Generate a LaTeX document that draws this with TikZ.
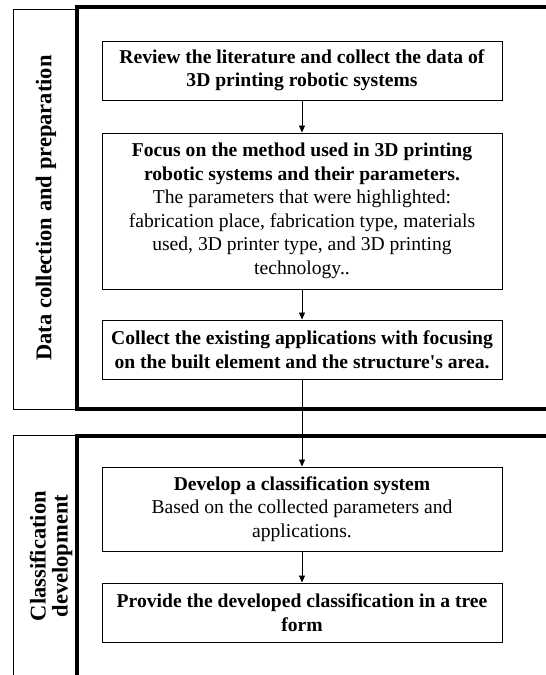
\documentclass[tikz,border=0pt]{standalone}
\usepackage{fontspec}
\setmainfont{Liberation Serif}[Ligatures=TeXOff]
\usetikzlibrary{arrows.meta}
\begin{document}
\begin{tikzpicture}[x=1pt,y=-1pt,
  stepbox/.style={draw, line width=1pt, minimum width=400pt, align=center, inner sep=0pt, font=\fontsize{19.6}{23.5}\selectfont},
  thickframe/.style={line width=3.5pt},
  thinframe/.style={line width=1pt},
  flow/.style={-{Triangle[length=7pt,width=6pt]}, line width=0.7pt},
  sidelabel/.style={rotate=90, align=center, inner sep=0pt, font=\fontsize{22.5}{22}\selectfont\bfseries}
]
\useasboundingbox (0,0) rectangle (546,675);
% frames
\draw[thinframe] (13,9) rectangle (77,409);
\draw[thinframe] (77,435) -- (13,435) -- (13,676);
\draw[thickframe] (547,7) -- (77,7) -- (77,409) -- (547,409);
\draw[thickframe] (547,436) -- (77,436) -- (77,676);
% side labels
\node[sidelabel] (lab1) at (46,208) {Data collection and preparation};
\node[sidelabel] (lab2) at (51,556) {Classification\\development};
% boxes
\node[stepbox, minimum height=59pt] (b1) at (302,70.5)
  {\textbf{Review the literature and collect the data of}\\\textbf{3D printing robotic systems}};
\node[stepbox, minimum height=156pt] (b2) at (302,211)
  {\textbf{Focus on the method used in 3D printing}\\\textbf{robotic systems and their parameters.}\\The parameters that were highlighted:\\fabrication place, fabrication type, materials\\used, 3D printer type, and 3D printing\\technology..};
\node[stepbox, minimum height=59pt] (b3) at (302,349.5)
  {\textbf{Collect the existing applications with focusing}\\\textbf{on the built element and the structure's area.}};
\node[stepbox, minimum height=84pt] (b4) at (302,509)
  {\textbf{Develop a classification system}\\Based on the collected parameters and\\applications.};
\node[stepbox, minimum height=59pt] (b5) at (302,612.5)
  {\textbf{Provide the developed classification in a tree}\\\textbf{form}};
% arrows
\draw[flow] (b1) -- (b2);
\draw[flow] (b2) -- (b3);
\draw[flow] (b3) -- (b4);
\draw[flow] (b4) -- (b5);
\end{tikzpicture}
\end{document}
